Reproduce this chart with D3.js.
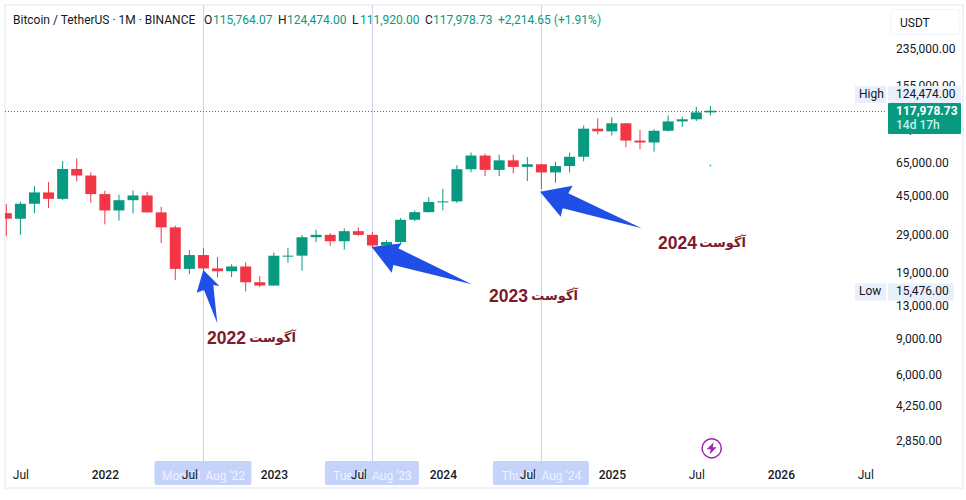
<!DOCTYPE html>
<html>
<head>
<meta charset="utf-8">
<script src="https://cdn.jsdelivr.net/npm/d3@7"></script>
<style>
	html, body { margin: 0; padding: 0; background: #fff; }
	svg { display: block; font-family: Roboto, "Noto Sans", sans-serif; }
	.axis path, .axis line { display: none; }
</style>
</head>
<body>
<svg class="chart" width="966" height="500"></svg>
<script>
////////////////////////////////////////////////////////////
//// Data //////////////////////////////////////////////////
////////////////////////////////////////////////////////////
const months = [
	"2021-06", "2021-07", "2021-08", "2021-09", "2021-10", "2021-11", "2021-12",
	"2022-01", "2022-02", "2022-03", "2022-04", "2022-05", "2022-06", "2022-07", "2022-08", "2022-09", "2022-10", "2022-11", "2022-12",
	"2023-01", "2023-02", "2023-03", "2023-04", "2023-05", "2023-06", "2023-07", "2023-08", "2023-09", "2023-10", "2023-11", "2023-12",
	"2024-01", "2024-02", "2024-03", "2024-04", "2024-05", "2024-06", "2024-07", "2024-08", "2024-09", "2024-10", "2024-11", "2024-12",
	"2025-01", "2025-02", "2025-03", "2025-04", "2025-05", "2025-06", "2025-07", "2025-08"
];
const futureMonths = ["2025-09", "2025-10", "2025-11", "2025-12", "2026-01", "2026-02", "2026-03", "2026-04", "2026-05", "2026-06", "2026-07"];

const opens = [
	37300, 35045, 41462, 47100, 43820, 61300, 56950,
	46216, 38466, 43160, 45510, 37630, 31801, 19942, 23296, 20048, 19422, 20490, 17165,
	16541, 23125, 23141, 28465, 29233, 27210, 30472, 29232, 25941, 26963, 34639, 37723,
	42283, 42580, 61130, 71280, 60672, 67540, 62772, 64628, 58974, 63327, 70292, 96408,
	93576, 102429, 84350, 82550, 94172, 104591, 107146, 115764.07
];
const highs = [
	41300, 42448, 50500, 52920, 67000, 69000, 59053,
	47990, 45821, 48189, 47444, 40023, 32395, 24668, 25211, 22799, 20988, 21480, 18387,
	23960, 25250, 29184, 31000, 29820, 31431, 31804, 30244, 27483, 35280, 38450, 44700,
	48969, 64000, 73777, 72797, 71979, 71997, 70079, 65000, 66498, 73620, 99800, 108353,
	109588, 102500, 95000, 95758, 111980, 110530, 123218, 124474
];
const lows = [
	28800, 29278, 37332, 39600, 43283, 53256, 42000,
	32917, 34322, 37155, 37578, 26700, 17622, 18781, 19520, 18125, 18190, 15476, 16256,
	16499, 21351, 19549, 26942, 25811, 24800, 28861, 25166, 24901, 26538, 34097, 37615,
	38555, 41884, 59005, 56552, 56555, 58402, 53485, 49000, 52550, 58946, 66835, 90500,
	89256, 78258, 76606, 74508, 93377, 98200, 105100, 111920
];
const closes = [
	35045, 41462, 47100, 43824, 61299, 56950, 46216,
	38466, 43160, 45510, 37630, 31801, 19942, 23293, 20050, 19422, 20490, 17164, 16542,
	23125, 23141, 28465, 29233, 27210, 30472, 29232, 25941, 26963, 34639, 37723, 42283,
	42580, 61130, 71280, 60672, 67540, 62772, 64628, 58974, 63327, 70292, 96408, 93576,
	102429, 84350, 82550, 94172, 104591, 107146, 115764, 117978.73
];

const priceTicks = [235000, 155000, 95000, 65000, 45000, 29000, 19000, 13000, 9000, 6000, 4250, 2850];
const timeTicks = ["2021-07", "2022-01", "2022-07", "2023-01", "2023-07", "2024-01", "2024-07", "2025-01", "2025-07", "2026-01", "2026-07"];
const timeLabels = ["Jul", "2022", "Jul", "2023", "Jul", "2024", "Jul", "2025", "Jul", "2026", "Jul"];

const markedMonths = ["2022-08", "2023-08", "2024-08"];
const markedLabels = ["Mon 01 Aug '22", "Tue 01 Aug '23", "Thu 01 Aug '24"];
const noteWord = "آگوست";
const noteYears = ["2022", "2023", "2024"];

const lastPrice = 117978.73;
const highPrice = 124474;
const lowPrice = 15476;
const strayDot = { month: "2025-08", price: 63800 };

////////////////////////////////////////////////////////////
//// Setup /////////////////////////////////////////////////
////////////////////////////////////////////////////////////
const green = "#089981";
const red = "#f23645";
const ink = "#131722";
const labelBg = "#e8f0fb";
const noteColor = "#7b1a2b";
const arrowColor = "#1f4fe6";
const bodyWidth = 11;

const svg = d3.select(".chart");

const x = d3.scalePoint().domain(months.concat(futureMonths)).range([6.3, 865.3]);
const y = d3.scaleLog().domain([235000, 2850]).range([49.4, 442]);
const price = d3.format(",.2f");

const candles = months.map((month, i) => ({
	month,
	open: opens[i],
	high: highs[i],
	low: lows[i],
	close: closes[i]
}));

svg.append("defs").append("clipPath").attr("id", "pane")
	.append("rect").attr("x", 5).attr("y", 5).attr("width", 882).attr("height", 456);

// outer frame
svg.append("rect")
	.attr("x", 5).attr("y", 5).attr("width", 958).attr("height", 483)
	.attr("fill", "#fff").attr("stroke", "#f1f2f5").attr("stroke-width", 2);

const pane = svg.append("g").attr("clip-path", "url(#pane)");

////////////////////////////////////////////////////////////
//// Marks /////////////////////////////////////////////////
////////////////////////////////////////////////////////////
pane.selectAll(".marker")
	.data(markedMonths)
	.join("line")
	.attr("x1", d => x(d)).attr("x2", d => x(d))
	.attr("y1", 5).attr("y2", 462)
	.attr("stroke", "#c9cff0").attr("stroke-width", 1);

// snap to the pixel row so the dots stay sharp
const lastY = Math.round(y(lastPrice)) + 0.5;
pane.append("line")
	.attr("x1", 5).attr("x2", 887)
	.attr("y1", lastY).attr("y2", lastY)
	.attr("stroke", green).attr("stroke-width", 1)
	.attr("stroke-dasharray", "1 2");

const candle = pane.selectAll(".candle").data(candles).join("g");

candle.append("line")
	.attr("x1", d => x(d.month)).attr("x2", d => x(d.month))
	.attr("y1", d => y(d.high)).attr("y2", d => y(d.low))
	.attr("stroke", d => (d.close >= d.open ? green : red))
	.attr("stroke-width", 1);

candle.append("rect")
	.attr("x", d => x(d.month) - bodyWidth / 2)
	.attr("width", bodyWidth)
	.attr("y", d => y(Math.max(d.open, d.close)))
	.attr("height", d => Math.max(1, Math.abs(y(d.open) - y(d.close))))
	.attr("fill", d => (d.close >= d.open ? green : red));

pane.append("circle")
	.attr("cx", x(strayDot.month)).attr("cy", y(strayDot.price))
	.attr("r", 1).attr("fill", "#26c6da");

////////////////////////////////////////////////////////////
//// Annotations ///////////////////////////////////////////
////////////////////////////////////////////////////////////
const arrows = [
	[[203.3, 270], [219.3, 286], [213.3, 285], [217.3, 323.3], [204, 290], [196.7, 292.7]],
	[[371.7, 247], [401.7, 243.3], [398.3, 248.3], [471.7, 284.3], [393.3, 265], [391.7, 272.7]],
	[[540, 191.7], [572.7, 185.7], [568.3, 193.3], [641.7, 228.3], [562.7, 208.3], [560.7, 216.7]]
];

svg.selectAll(".arrow")
	.data(arrows)
	.join("polygon")
	.attr("points", d => d.join(" "))
	.attr("fill", arrowColor);

const notePos = [[207, 296, 338], [489, 578, 296], [658, 746, 243]];

svg.selectAll(".noteYear")
	.data(noteYears)
	.join("text")
	.attr("x", (d, i) => notePos[i][0])
	.attr("y", (d, i) => notePos[i][2])
	.attr("dy", "0.35em")
	.attr("font-family", '"Liberation Sans", sans-serif')
	.attr("font-size", 17.5)
	.attr("font-weight", 700)
	.attr("fill", noteColor)
	.text(d => d);

svg.selectAll(".noteWord")
	.data(noteYears)
	.join("text")
	.attr("x", (d, i) => notePos[i][1])
	.attr("y", (d, i) => notePos[i][2] - 1)
	.attr("dy", "0.35em")
	.attr("text-anchor", "end")
	.attr("font-family", '"DejaVu Sans", sans-serif')
	.attr("font-size", 13)
	.attr("font-weight", 700)
	.attr("fill", noteColor)
	.text(noteWord);

// lightning badge
const bolt = svg.append("g").attr("transform", "translate(711.7,448.3)");
bolt.append("circle").attr("r", 9.6).attr("fill", "#fff").attr("stroke", "#9c27b0").attr("stroke-width", 1.5);
bolt.append("path").attr("d", "M2,-6 L-5,1 L-1,1 L-2,6 L5,-1 L1,-1 Z").attr("fill", "#9c27b0");

////////////////////////////////////////////////////////////
//// Axes //////////////////////////////////////////////////
////////////////////////////////////////////////////////////
const yAxis = svg.append("g")
	.attr("class", "axis")
	.attr("transform", "translate(896,-1)")
	.call(d3.axisRight(y).tickValues(priceTicks).tickFormat(price).tickSize(0).tickPadding(0));

yAxis.selectAll("text").attr("font-size", 12).attr("fill", ink).attr("font-family", "Roboto");

// date chips sit under the time axis labels
const chipWidth = [97, 94, 96];
svg.selectAll(".chip")
	.data(markedMonths)
	.join("rect")
	.attr("x", (d, i) => x(d) - chipWidth[i] / 2 - 0.5)
	.attr("y", 461).attr("width", (d, i) => chipWidth[i]).attr("height", 24)
	.attr("rx", 2)
	.attr("fill", "#c5d3fa");

svg.selectAll(".chipText")
	.data(markedLabels)
	.join("text")
	.attr("x", (d, i) => x(markedMonths[i]))
	.attr("y", 476)
	.attr("dy", "0.32em")
	.attr("text-anchor", "middle")
	.attr("font-size", 12)
	.attr("fill", "#eef2ff")
	.text(d => d);

const xAxis = svg.append("g")
	.attr("class", "axis")
	.attr("transform", "translate(0,470)")
	.call(d3.axisBottom(x).tickValues(timeTicks).tickFormat((d, i) => timeLabels[i]).tickSize(0).tickPadding(0));

xAxis.selectAll("text")
	.attr("font-size", 12)
	.attr("font-family", "Roboto")
	.attr("fill", ink)
	.attr("font-weight", (d, i) => (timeLabels[i] === "Jul" ? 400 : 500));

////////////////////////////////////////////////////////////
//// Price labels //////////////////////////////////////////
////////////////////////////////////////////////////////////
function tag(name, value, top, right) {
	svg.append("rect").attr("x", 855).attr("y", top).attr("width", 31).attr("height", 17).attr("fill", labelBg);
	svg.append("rect").attr("x", 888).attr("y", top).attr("width", right - 888).attr("height", 17).attr("fill", labelBg);
	svg.append("text").attr("x", 859).attr("y", top + 7.5).attr("dy", "0.35em")
		.attr("font-size", 12).attr("fill", ink).text(name);
	svg.append("text").attr("x", 896).attr("y", top + 7.5).attr("dy", "0.35em")
		.attr("font-size", 12).attr("fill", ink).text(price(value));
}

tag("High", highPrice, 86, 961);
tag("Low", lowPrice, 283.5, 954);

svg.append("rect").attr("x", 888).attr("y", 103).attr("width", 73).attr("height", 31).attr("rx", 1).attr("fill", green);
svg.append("text").attr("x", 896).attr("y", 110.5).attr("dy", "0.35em")
	.attr("font-size", 12).attr("font-weight", 700).attr("fill", "#fff").text(price(lastPrice));
svg.append("text").attr("x", 896).attr("y", 124.5).attr("dy", "0.35em")
	.attr("font-size", 12).attr("font-weight", 500).attr("fill", "#c8f0e4").text("14d 17h");

// currency button
svg.append("rect").attr("x", 891).attr("y", 9.5).attr("width", 69).attr("height", 25).attr("rx", 4)
	.attr("fill", "#fff").attr("stroke", "#f0f3fa");
svg.append("text").attr("x", 900).attr("y", 22.5).attr("dy", "0.35em")
	.attr("font-size", 12).attr("fill", ink).text("USDT");

////////////////////////////////////////////////////////////
//// Legend ////////////////////////////////////////////////
////////////////////////////////////////////////////////////
const legendItems = [
	["Bitcoin / TetherUS · 1M · BINANCE", 13, ink],
	["O", 204, ink],
	["115,764.07", 213, green],
	["H", 278, ink],
	["124,474.00", 287, green],
	["L", 352, ink],
	["111,920.00", 360, green],
	["C", 425, ink],
	["117,978.73", 433, green],
	["+2,214.65 (+1.91%)", 498, green]
];

svg.selectAll(".legend")
	.data(legendItems)
	.join("text")
	.attr("x", d => d[1])
	.attr("y", 20)
	.attr("dy", "0.35em")
	.attr("font-size", 12)
	.attr("fill", d => d[2])
	.text(d => d[0]);
</script>
</body>
</html>
